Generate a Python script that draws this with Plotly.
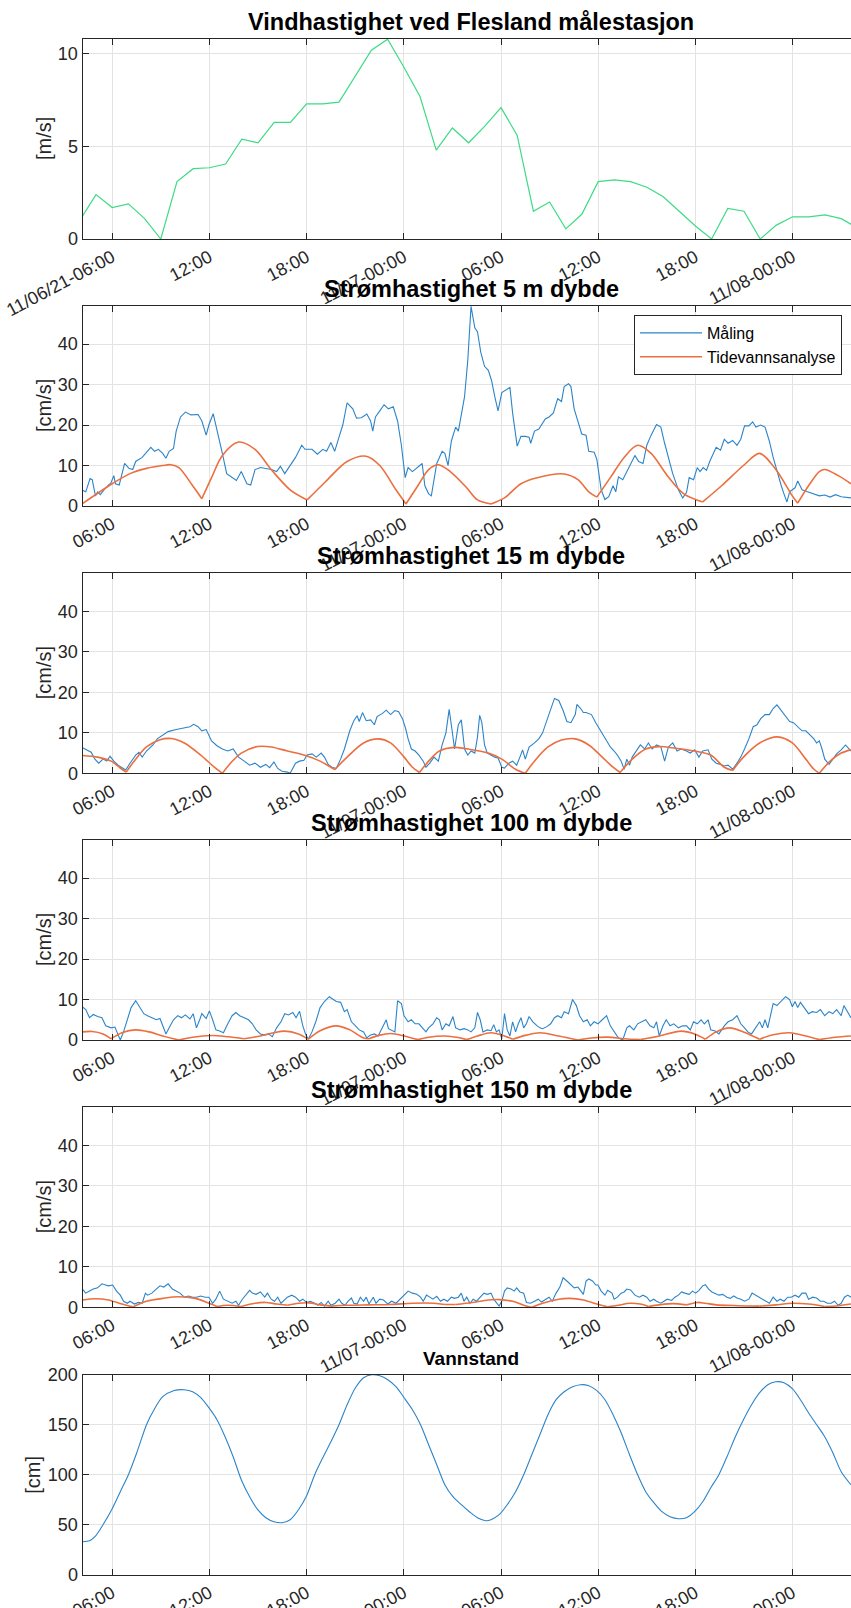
import pandas as pd
import plotly.graph_objects as go

START = pd.Timestamp("2021-11-06 00:00")

# ---------------- data (time in minutes after 2021-11-06 00:00) ----------------
wind_h = list(range(4, 53))
wind = [1.0, 2.4, 1.7, 1.9, 1.1, 0.0, 3.1, 3.8, 3.85, 4.05,
        5.4, 5.2, 6.3, 6.3, 7.3, 7.3, 7.4, 8.8, 10.2, 10.8,
        9.3, 7.7, 4.8, 6.0, 5.2, 6.1, 7.1, 5.6, 1.5, 2.0,
        0.55, 1.35, 3.1, 3.2, 3.1, 2.8, 2.3, 1.5, 0.7, 0.0,
        1.65, 1.5, 0.0, 0.75, 1.2, 1.2, 1.3, 1.1, 0.6]

t5_meas = [250, 262, 278, 286, 298, 306, 316, 336, 356, 366,
           372, 386, 406, 422, 436, 447, 471, 503, 517, 531,
           547, 559, 571, 587, 597, 613, 631, 652, 678, 692,
           708, 718, 734, 748, 768, 784, 804, 820, 838, 859,
           873, 889, 909, 929, 949, 969, 983, 999, 1019, 1039,
           1062, 1074, 1100, 1120, 1140, 1154, 1170, 1184, 1200, 1214,
           1230, 1251, 1265, 1283, 1303, 1317, 1325, 1335, 1351, 1367,
           1383, 1401, 1417, 1431, 1445, 1456, 1472, 1492, 1508, 1518,
           1532, 1542, 1562, 1582, 1592, 1604, 1616, 1632, 1642, 1653,
           1665, 1677, 1689, 1703, 1713, 1725, 1739, 1753, 1765, 1777,
           1789, 1803, 1819, 1833, 1843, 1854, 1860, 1874, 1890, 1904,
           1910, 1924, 1940, 1964, 1978, 1994, 2010, 2024, 2034, 2050,
           2059, 2071, 2085, 2099, 2115, 2125, 2145, 2155, 2171, 2185,
           2199, 2215, 2225, 2235, 2251, 2266, 2280, 2296, 2310, 2326,
           2340, 2356, 2376, 2392, 2406, 2420, 2436, 2457, 2473, 2487,
           2497, 2513, 2527, 2537, 2549, 2561, 2573, 2597, 2613, 2627,
           2641, 2658, 2674, 2688, 2702, 2718, 2732, 2744, 2762, 2778,
           2794, 2808, 2822, 2838, 2848, 2859, 2869, 2889, 2899, 2915,
           2935, 2959, 2979, 2999, 3019, 3039, 3060, 3096]
v5_meas = [3.9, 3.5, 6.8, 6.5, 2.5, 3.5, 2.8, 4.5, 5.8, 7.5,
           5.5, 5.2, 10.5, 9.3, 9.0, 11, 12, 14.5, 13.5, 14,
           13, 11.8, 13.5, 14.2, 18.5, 22, 23.2, 22.5, 22.6, 21,
           17.5, 20, 22.8, 19, 13, 8, 7, 6.3, 8.5, 5.5,
           5.2, 9, 9.5, 9.2, 9.0, 8.5, 9.8, 8.0, 10, 12,
           15, 14, 14, 12.8, 14, 13.5, 15.7, 13.5, 17, 20,
           25.5, 24, 21.7, 21.8, 22.7, 21, 18.5, 22, 23.5, 25,
           24, 24.5, 21, 15, 7, 9.5, 8.5, 9.5, 10.5, 5,
           3, 2.5, 10.5, 13.5, 13, 10, 16, 19.5, 18.5, 22.5,
           27, 36, 49.3, 44, 43, 38, 34.5, 33.5, 31, 27,
           23.5, 28, 28.8, 29.3, 23, 18, 14.8, 17.2, 17.2, 17,
           15.5, 18.5, 19, 21.5, 22, 23, 26.5, 25.8, 29.5, 30.2,
           29.5, 24, 21, 17.8, 17.5, 13.5, 13.3, 11.5, 4, 1.6,
           2.3, 5, 3.5, 7.2, 6.5, 8.5, 10.5, 12.5, 11, 10.5,
           15, 17.5, 20.1, 19.5, 15.5, 12, 8, 4, 2, 3.3,
           7, 6.5, 9.5, 8.5, 9.5, 8.8, 11, 14.5, 13.8, 16.5,
           15.5, 16.2, 15, 16.5, 19.8, 19.8, 20.8, 19.5, 20, 19.5,
           16, 12, 8.5, 5, 3, 1, 3.5, 4.5, 6.2, 4,
           3.5, 3, 2.5, 2.7, 2.2, 2.8, 2.3, 2]

t5_tide = [250, 360, 426, 487, 547, 577, 607, 658, 692, 728,
           768, 828, 889, 949, 1019, 1082, 1150, 1230, 1301, 1351,
           1411, 1448, 1492, 1532, 1568, 1612, 1673, 1713, 1763, 1813,
           1874, 1934, 2034, 2085, 2125, 2155, 2205, 2256, 2306, 2356,
           2416, 2477, 2547, 2617, 2698, 2758, 2818, 2879, 2899, 2939,
           2979, 2999, 3049, 3096]
v5_tide = [0.6, 5.5, 8, 9.3, 10, 10.2, 9.5, 5, 1.8, 7,
           12.5, 15.8, 14, 9, 4, 1.5, 6, 11, 12.3, 10,
           4, 0.5, 5, 9, 10.2, 8.5, 4.5, 1.5, 0.5, 2,
           5.5, 7, 7.9, 6.5, 3.5, 2.2, 7, 12, 15, 13,
           7.5, 3, 1, 5, 10, 13, 9, 2.5, 0.7, 5,
           8.5, 9, 7.5, 5.5]

t15_meas = [250, 266, 282, 296, 310, 326, 340, 352, 366, 382,
            396, 410, 426, 447, 459, 471, 487, 511, 527, 547,
            567, 597, 627, 648, 662, 678, 692, 708, 728, 748,
            768, 788, 808, 828, 849, 869, 889, 909, 929, 943,
            959, 973, 989, 1009, 1019, 1039, 1054, 1070, 1082, 1100,
            1116, 1134, 1146, 1160, 1174, 1190, 1206, 1220, 1240, 1255,
            1267, 1275, 1287, 1301, 1317, 1331, 1341, 1361, 1375, 1391,
            1407, 1421, 1435, 1447, 1456, 1468, 1482, 1496, 1512, 1522,
            1536, 1552, 1568, 1582, 1596, 1608, 1618, 1628, 1642, 1653,
            1665, 1677, 1689, 1703, 1713, 1721, 1729, 1739, 1749, 1763,
            1777, 1789, 1803, 1813, 1829, 1843, 1858, 1870, 1880, 1890,
            1904, 1924, 1940, 1954, 1970, 1984, 1998, 2014, 2030, 2044,
            2059, 2075, 2081, 2095, 2105, 2115, 2135, 2151, 2165, 2179,
            2191, 2205, 2219, 2231, 2245, 2256, 2266, 2276, 2286, 2300,
            2316, 2332, 2346, 2360, 2376, 2392, 2406, 2420, 2436, 2452,
            2467, 2487, 2501, 2517, 2533, 2547, 2567, 2581, 2597, 2613,
            2627, 2641, 2658, 2674, 2688, 2702, 2718, 2734, 2748, 2762,
            2778, 2794, 2808, 2822, 2838, 2852, 2869, 2883, 2899, 2915,
            2929, 2945, 2959, 2969, 2979, 2989, 2999, 3015, 3029, 3043,
            3060, 3076, 3096]
v15_meas = [6.3, 5.7, 5.2, 3.5, 2.5, 3.5, 3.0, 4.2, 3, 2,
            1.3, 0.8, 2.5, 4.5, 5.2, 4, 5.5, 7, 8.5, 9.5,
            10.3, 10.8, 11.2, 11.5, 12.1, 11.5, 10.5, 10.8, 8, 6.8,
            6, 5.5, 6, 4, 3, 2, 2.5, 1.5, 2.2, 1.4,
            2.8, 1.2, 0.5, 0.3, 0, 2.5, 3, 3.2, 4.5, 4.8,
            4, 5, 4, 2.2, 1.5, 1.2, 3.5, 6, 10.5, 13,
            14.2, 12.8, 15, 13, 13.2, 12, 14, 14.8, 15.6, 14.5,
            15.5, 15.2, 13.5, 11, 8.5, 6, 5.5, 4.5, 3, 1.5,
            2.5, 4, 3, 7, 10, 15.8, 11, 6, 12, 13.2,
            6, 4.5, 5.5, 5, 9, 14.3, 12.5, 7, 5, 4.5,
            4, 3.8, 1.5, 1.3, 2.5, 3.0, 2, 4, 5.8, 3.5,
            6.5, 7.5, 8.5, 10, 13, 16, 18.5, 18, 15.5, 12.8,
            12.5, 14.5, 17, 16, 15, 15, 14.5, 12.5, 11, 9.5,
            8, 6.5, 5.5, 4.5, 3, 1, 3.5, 2, 4, 5.5,
            7, 6, 7.5, 6, 7, 6.5, 3, 6.5, 7.5, 5.5,
            6, 5.5, 5, 5.8, 4, 5.5, 5.8, 3.5, 2.5, 2.2,
            1.8, 2, 1, 2.5, 4, 6, 8.5, 11.5, 12, 13.5,
            14.5, 14.5, 16, 16.9, 15.5, 14.5, 12.8, 12.5, 11.5, 10.5,
            10.5, 9.5, 8.5, 7.5, 8, 6, 3.5, 2.2, 3.5, 4.8,
            5.8, 7, 5.5]

t15_tide = [250, 306, 356, 396, 412, 447, 487, 537, 579, 627,
            688, 738, 768, 798, 838, 899, 949, 1009, 1070, 1130,
            1184, 1230, 1291, 1345, 1391, 1441, 1472, 1498, 1532, 1572,
            1628, 1693, 1753, 1803, 1854, 1890, 1924, 1974, 2024, 2075,
            2125, 2175, 2215, 2241, 2286, 2336, 2386, 2446, 2517, 2577,
            2627, 2658, 2698, 2758, 2824, 2879, 2929, 2959, 2979, 3019,
            3060, 3096]
v15_tide = [4.4, 4.0, 3, 1, 0.3, 3.5, 6.5, 8.3, 8.6, 7.5,
            4.5, 1.5, 0, 2.5, 5, 6.6, 6.5, 5.5, 4.5, 3,
            0.9, 4, 7.5, 8.5, 7.5, 4, 1.5, 0.2, 3, 5.5,
            6.4, 5.8, 5.0, 3.5, 1, 0, 3, 6.5, 8.2, 8.5,
            7, 4, 1.5, 0.2, 3.5, 6, 6.6, 6.2, 5.5, 4.5,
            1.5, 0.7, 4, 7.5, 9, 7.5, 3.5, 1, 0, 3,
            5, 5.8]

t100_meas = [250, 262, 276, 290, 306, 322, 336, 356, 370, 382,
             390, 402, 416, 430, 447, 463, 477, 491, 507, 523,
             537, 547, 559, 571, 587, 603, 617, 631, 648, 660,
             672, 684, 692, 708, 720, 732, 744, 758, 772, 788,
             804, 818, 832, 849, 865, 879, 893, 909, 925, 939,
             953, 969, 985, 999, 1013, 1029, 1041, 1054, 1066, 1076,
             1086, 1100, 1114, 1130, 1146, 1164, 1180, 1190, 1206, 1220,
             1230, 1246, 1261, 1275, 1291, 1303, 1315, 1331, 1345, 1361,
             1375, 1383, 1395, 1407, 1417, 1431, 1441, 1456, 1468, 1482,
             1496, 1508, 1522, 1532, 1548, 1562, 1572, 1582, 1596, 1608,
             1622, 1632, 1648, 1663, 1677, 1689, 1703, 1713, 1723, 1733,
             1749, 1763, 1773, 1783, 1793, 1803, 1813, 1823, 1833, 1843,
             1854, 1864, 1874, 1884, 1894, 1904, 1918, 1934, 1944, 1954,
             1970, 1984, 1998, 2010, 2024, 2034, 2050, 2065, 2079, 2091,
             2105, 2119, 2131, 2145, 2159, 2175, 2191, 2205, 2219, 2235,
             2251, 2266, 2276, 2292, 2306, 2320, 2336, 2352, 2366, 2376,
             2386, 2400, 2412, 2426, 2440, 2457, 2473, 2487, 2501, 2513,
             2527, 2541, 2553, 2567, 2577, 2593, 2607, 2617, 2627, 2641,
             2658, 2674, 2688, 2702, 2714, 2728, 2742, 2758, 2768, 2778,
             2788, 2798, 2808, 2822, 2838, 2854, 2869, 2879, 2889, 2899,
             2909, 2923, 2939, 2953, 2969, 2983, 2999, 3015, 3029, 3043,
             3060, 3070, 3084, 3096]
v100_meas = [8.2, 7.5, 5.5, 6.3, 5.8, 5.5, 3.5, 3.0, 3.2, 1,
             0, 2, 5, 8, 9.7, 8, 6.5, 6, 5.5, 5,
             5.3, 3.5, 1.5, 3, 5, 6, 5.5, 6.2, 5.2, 6.5,
             3, 5, 6.5, 5.3, 7.2, 5, 2.5, 2.2, 1.8, 4,
             6, 6.8, 6, 5.5, 5, 4, 2.5, 1.5, 1.2, 1.5,
             0.8, 3, 4.5, 6.5, 6.2, 6.8, 5.5, 7.1, 3.5, 1.5,
             0.2, 2, 4.5, 8, 9.5, 10.7, 10, 9.5, 9.3, 7,
             7.5, 4.5, 3.5, 2.5, 2, 0.5, 1.2, 1.5, 1, 3,
             5, 2.8, 2.5, 2, 9.7, 9, 6, 4.5, 5, 4,
             4, 3, 2, 3, 4, 5.5, 5, 2.5, 4, 3.5,
             5.8, 3, 2.5, 2.8, 2.5, 2, 3, 6.8, 5, 2,
             2.5, 2.3, 3.8, 2, 2.5, 0.3, 6.5, 2.5, 1, 4.5,
             2, 4, 5.5, 3, 4, 5.8, 4.5, 3.5, 3, 2.8,
             3.3, 4, 5.5, 6, 5.5, 7, 6.5, 10, 8.5, 6,
             4.5, 5, 3.5, 4.5, 4, 5, 6, 3.5, 2, 0.5,
             0, 3, 3.5, 2.5, 4, 4.5, 5, 3.5, 3, 4.5,
             1, 3.5, 5, 3.5, 4, 3, 3.5, 3.5, 2.5, 4.5,
             4, 5, 4, 5, 2.5, 2.2, 1.5, 2.5, 3.5, 4.5,
             5, 6, 4, 3, 2, 1.5, 3, 4.5, 3, 5,
             3, 6, 9, 8.5, 9.5, 10.7, 10, 8.2, 9.5, 8,
             9.3, 8, 6.5, 7, 6.8, 7.5, 6, 7, 6.5, 7.5,
             6, 8.5, 7, 5.5]

t100_tide = [250, 286, 326, 356, 396, 447, 497, 547, 607, 658,
             728, 788, 849, 909, 959, 999, 1050, 1086, 1130, 1190,
             1240, 1291, 1311, 1351, 1391, 1441, 1492, 1532, 1592, 1642,
             1673, 1713, 1763, 1813, 1843, 1894, 1944, 2014, 2085, 2135,
             2195, 2256, 2316, 2386, 2467, 2517, 2557, 2597, 2647, 2698,
             2758, 2808, 2869, 2929, 2979, 3039, 3096]
v100_tide = [2, 2.1, 1.5, 0.3, 1.8, 2.5, 2.0, 1, 0, 0.7,
             1.1, 0.8, 0.3, 1.0, 1.8, 2.2, 1.5, 0.2, 2.3, 3.5,
             2.5, 0.5, 0.3, 1.2, 1.6, 1.0, 0.1, 0.7, 1.0, 0.6,
             0.1, 1.0, 1.8, 1.0, 0.2, 1.2, 1.8, 1.0, 0, 0.5,
             0.7, 0.3, 0.1, 1.0, 2.2, 1.5, 0.2, 2.0, 3.0, 2.0,
             0.2, 1.3, 1.8, 1.0, 0.1, 0.7, 1.0]

t150_meas = [250, 262, 276, 290, 306, 322, 336, 346, 362, 376,
             390, 402, 416, 426, 442, 457, 471, 483, 491, 507,
             523, 537, 551, 567, 583, 597, 611, 627, 643, 658,
             672, 688, 704, 718, 732, 744, 758, 772, 788, 804,
             818, 828, 842, 853, 869, 879, 893, 909, 925, 935,
             949, 961, 973, 985, 999, 1009, 1025, 1039, 1054, 1066,
             1080, 1094, 1110, 1122, 1134, 1146, 1160, 1170, 1186, 1200,
             1210, 1222, 1234, 1246, 1255, 1267, 1279, 1291, 1301, 1311,
             1327, 1337, 1351, 1365, 1381, 1395, 1411, 1427, 1441, 1456,
             1472, 1488, 1502, 1512, 1524, 1536, 1548, 1562, 1576, 1588,
             1602, 1616, 1628, 1642, 1653, 1663, 1673, 1685, 1697, 1709,
             1723, 1737, 1749, 1763, 1773, 1783, 1793, 1803, 1813, 1823,
             1837, 1849, 1858, 1870, 1884, 1894, 1910, 1924, 1938, 1950,
             1964, 1978, 1990, 2004, 2018, 2030, 2044, 2059, 2071, 2085,
             2095, 2105, 2115, 2125, 2139, 2151, 2159, 2171, 2185, 2195,
             2211, 2219, 2231, 2245, 2256, 2266, 2280, 2296, 2312, 2326,
             2340, 2352, 2366, 2376, 2392, 2406, 2416, 2432, 2444, 2457,
             2469, 2481, 2497, 2509, 2521, 2533, 2547, 2557, 2569, 2581,
             2593, 2607, 2621, 2637, 2649, 2662, 2674, 2688, 2702, 2718,
             2730, 2742, 2754, 2768, 2778, 2794, 2808, 2822, 2834, 2848,
             2862, 2875, 2889, 2903, 2915, 2929, 2939, 2955, 2969, 2983,
             2995, 3009, 3023, 3035, 3049, 3060, 3072, 3084, 3096]
v150_meas = [4.5, 3.5, 4, 4.5, 4.8, 5.8, 5.5, 5.3, 5.5, 4,
             3, 1.5, 1, 1.5, 0.8, 1.2, 1, 3.5, 3, 3.5,
             4.5, 5.3, 5, 5.8, 4.5, 4, 3.5, 2.5, 2.8, 2.5,
             2.5, 2.8, 2.5, 2.5, 1, 2, 4, 2, 1.5, 1,
             1.5, 0.5, 2, 3, 4.2, 3.5, 3.2, 3.8, 2.5, 3.5,
             2, 1.5, 2.5, 1.0, 2, 2.5, 3, 2.5, 1.5, 2,
             1.2, 1.5, 1, 0.5, 1.2, 0.3, 1.5, 0.5, 1, 2.0,
             1.0, 0.5, 1.5, 2.3, 1, 0.8, 2.5, 1.5, 2.5, 0.8,
             2.5, 1, 2, 1.8, 0.8, 1.5, 1, 2, 3, 4,
             3.5, 3.2, 2.5, 1.5, 3, 2.5, 2, 2.7, 1.5, 2,
             1.5, 2.5, 2.2, 2.5, 3.5, 1.5, 2.5, 1, 2, 1.5,
             2.5, 3.5, 3.2, 3.5, 2, 1.0, 0.3, 1.5, 4, 4.8,
             4.5, 4.0, 4.8, 3.8, 3.5, 1.2, 1, 1.5, 2, 1.3,
             2, 2.5, 1.5, 3.5, 5, 7.3, 6.5, 5.5, 4.8, 5,
             4, 3.2, 6.5, 7, 6.5, 5.5, 5.5, 4, 3, 4.2,
             3.5, 2, 2.5, 3.5, 3.8, 4.5, 4.3, 3, 2.5, 3,
             2.5, 1.5, 2.0, 1.5, 1, 1.5, 2, 1.7, 2.5, 3,
             3.8, 3.5, 3.2, 4, 3.5, 4.2, 5.3, 5.6, 4.5, 3.8,
             3.5, 3, 3.2, 2.5, 2.2, 2.8, 2.3, 2, 1.5, 2,
             3.5, 3, 2.5, 2, 1.5, 1, 2.5, 1.5, 2, 1.5,
             2.5, 2.5, 3, 2.5, 3.5, 3.5, 2, 2.5, 2.3, 1.5,
             1.5, 1, 1, 1.5, 0.5, 1, 2.5, 3, 2.5]

t150_tide = [250, 296, 346, 396, 436, 487, 547, 607, 668, 718,
             748, 788, 838, 889, 929, 969, 1009, 1050, 1090, 1130,
             1170, 1230, 1311, 1391, 1472, 1552, 1592, 1632, 1693, 1753,
             1793, 1843, 1884, 1914, 1954, 2014, 2055, 2105, 2155, 2195,
             2235, 2276, 2316, 2346, 2386, 2436, 2487, 2527, 2557, 2597,
             2678, 2758, 2818, 2879, 2939, 2999, 3049, 3096]
v150_tide = [1.8, 2.1, 1.8, 0.8, 0.1, 1.5, 2.2, 2.6, 2.2, 1.0,
             0.2, 0.5, 0.2, 1.0, 1.2, 0.8, 0.5, 1.0, 1.1, 0.6,
             0.3, 0.5, 0.6, 0.7, 1.0, 1.0, 0.7, 0.7, 1.2, 1.8,
             1.9, 1.5, 0.5, 0, 1.0, 2.0, 2.2, 1.8, 0.8, 0.1,
             0.5, 1.0, 0.8, 0.2, 0.6, 0.9, 0.6, 1.2, 1.0, 0.6,
             0.4, 0.3, 0.6, 1.0, 0.8, 0.2, 0.4, 0.8]

t_level = [250, 276, 296, 326, 360, 390, 420, 451, 487, 517,
           547, 587, 627, 658, 688, 718, 748, 778, 808, 838,
           869, 899, 929, 959, 989, 1019, 1050, 1080, 1110, 1140,
           1170, 1200, 1230, 1261, 1291, 1321, 1351, 1381, 1411, 1441,
           1472, 1502, 1532, 1562, 1592, 1622, 1653, 1683, 1713, 1743,
           1763, 1793, 1823, 1854, 1884, 1914, 1944, 1974, 2004, 2034,
           2065, 2095, 2125, 2155, 2185, 2215, 2245, 2276, 2306, 2336,
           2366, 2396, 2426, 2457, 2487, 2517, 2547, 2577, 2607, 2637,
           2668, 2698, 2728, 2758, 2788, 2818, 2848, 2879, 2909, 2939,
           2969, 2999, 3029, 3060, 3096]
level = [33, 34, 38, 50, 66, 83, 100, 122, 150, 166,
         178, 184, 185, 183, 177, 167, 155, 138, 118, 95,
         78, 65, 57, 53, 52, 55, 65, 79, 100, 117,
         133, 150, 170, 187, 197, 200, 199, 195, 188, 177,
         165, 150, 130, 110, 90, 78, 70, 63, 57, 54,
         55, 60, 70, 83, 100, 120, 140, 160, 175, 183,
         188, 190, 189, 184, 175, 160, 142, 120, 100, 83,
         72, 63, 58, 56, 57, 63, 73, 87, 100, 118,
         138, 155, 170, 182, 190, 193, 192, 186, 175, 162,
         150, 138, 122, 103, 90]

tick_hours = [6, 12, 18, 24, 30, 36, 42, 48]
ticks_first = ["11/06/21-06:00", "12:00", "18:00", "11/07-00:00", "06:00", "12:00", "18:00", "11/08-00:00"]
ticks_other = ["06:00", "12:00", "18:00", "11/07-00:00", "06:00", "12:00", "18:00", "11/08-00:00"]

titles = ["Vindhastighet ved Flesland målestasjon", "Strømhastighet 5 m dybde",
          "Strømhastighet 15 m dybde", "Strømhastighet 100 m dybde",
          "Strømhastighet 150 m dybde", "Vannstand"]
ylabels = ["[m/s]", "[cm/s]", "[cm/s]", "[cm/s]", "[cm/s]", "[cm]"]

# ---------------- helpers ----------------
for a, b in [(t5_meas, v5_meas), (t5_tide, v5_tide), (t15_meas, v15_meas), (t15_tide, v15_tide),
             (t100_meas, v100_meas), (t100_tide, v100_tide), (t150_meas, v150_meas),
             (t150_tide, v150_tide), (t_level, level), (wind_h, wind)]:
    assert len(a) == len(b), (len(a), len(b))


def tmin(m):
    return list(START + pd.to_timedelta(m, unit="min"))


def arcs(t, v):
    """Split a tidal-speed series at its local minima so each arc is smoothed
    separately while the cusps at the minima stay sharp."""
    xs, ys = [], []
    tt = tmin(t)
    n = len(v)
    for i in range(n):
        xs.append(tt[i]); ys.append(v[i])
        if 0 < i < n - 1 and v[i] <= v[i - 1] and v[i] <= v[i + 1]:
            xs.append(None); ys.append(None)
            xs.append(tt[i]); ys.append(v[i])
    return xs, ys


W, H = 851, 1608
FONT = "Liberation Sans, Arial, Helvetica, sans-serif"
BLUE = "#2b84c9"
ORANGE = "#ec6f3f"
GREEN = "#3ddc84"
AX = "#262626"

x0_px = 82.5
px_per_hour = 16.2
x_start = START + pd.to_timedelta(250, unit="min")
x_end = x_start + pd.to_timedelta((W - x0_px) / px_per_hour, unit="h")

tops = [39, 306, 573.3, 840, 1107.3, 1374.7]
ph = 200

fig = go.Figure()

# wind
fig.add_trace(go.Scatter(x=[START + pd.to_timedelta(h, unit="h") for h in wind_h], y=wind,
                         mode="lines", line=dict(color=GREEN, width=1.2), showlegend=False,
                         xaxis="x", yaxis="y"))

series = [(t5_meas, v5_meas, t5_tide, v5_tide),
          (t15_meas, v15_meas, t15_tide, v15_tide),
          (t100_meas, v100_meas, t100_tide, v100_tide),
          (t150_meas, v150_meas, t150_tide, v150_tide)]
for i, (tm, vm, tt, vt) in enumerate(series):
    k = i + 2
    fig.add_trace(go.Scatter(x=tmin(tm), y=vm, mode="lines", name="Måling",
                             line=dict(color=BLUE, width=1.1), showlegend=(i == 0),
                             xaxis=f"x{k}", yaxis=f"y{k}"))
    ax_, ay_ = arcs(tt, vt)
    fig.add_trace(go.Scatter(x=ax_, y=ay_, mode="lines", name="Tidevannsanalyse",
                             line=dict(color=ORANGE, width=1.6, shape="spline", smoothing=0.9),
                             connectgaps=False, showlegend=(i == 0),
                             xaxis=f"x{k}", yaxis=f"y{k}"))

fig.add_trace(go.Scatter(x=tmin(t_level), y=level, mode="lines",
                         line=dict(color=BLUE, width=1.1, shape="spline", smoothing=0.8),
                         showlegend=False, xaxis="x6", yaxis="y6"))

tickvals = [START + pd.to_timedelta(h, unit="h") for h in tick_hours]
yranges = [[0, 10.81], [0, 49.4], [0, 49.4], [0, 49.4], [0, 49.4], [0, 200]]
ydticks = [5, 10, 10, 10, 10, 50]
ylab_x = [44, 44, 44, 44, 44, 33]

layout = dict(width=W, height=H, margin=dict(l=0, r=0, t=0, b=0, pad=0), autosize=False,
              paper_bgcolor="white", plot_bgcolor="white",
              font=dict(family=FONT, size=18, color=AX),
              legend=dict(x=842 / W, xanchor="right", y=1 - 315 / H, yanchor="top",
                          bgcolor="white", bordercolor=AX, borderwidth=1, itemwidth=62,
                          font=dict(size=16, color="black"), tracegroupgap=0),
              annotations=[])

for i in range(6):
    k = "" if i == 0 else str(i + 1)
    top = tops[i]
    dom = [1 - (top + ph) / H, 1 - top / H]
    layout[f"xaxis{k}"] = dict(domain=[x0_px / W, 1], range=[x_start, x_end], anchor=f"y{k}",
                               tickmode="array", tickvals=tickvals,
                               ticktext=ticks_first if i == 0 else ticks_other,
                               tickangle=-28, ticks="inside", ticklen=6, tickcolor=AX,
                               showline=True, linecolor=AX, linewidth=1, mirror="ticks",
                               showgrid=True, gridcolor="#e3e3e3", gridwidth=1,
                               tickfont=dict(size=18, color=AX), zeroline=False,
                               automargin=False)
    layout[f"yaxis{k}"] = dict(domain=dom, range=yranges[i], anchor=f"x{k}",
                               dtick=ydticks[i], tick0=0, ticks="inside", ticklen=6, tickcolor=AX,
                               showline=True, linecolor=AX, linewidth=1,
                               showgrid=True, gridcolor="#e3e3e3", gridwidth=1,
                               tickfont=dict(size=18, color=AX), zeroline=False,
                               automargin=False)
    fs = 19 if i == 5 else 23.5
    layout["annotations"].append(dict(text=f"<b>{titles[i]}</b>", x=471 / W, xref="paper",
                                      y=1 - (top - 7.5 + 0.22 * fs) / H, yref="paper",
                                      yanchor="bottom", xanchor="center", showarrow=False,
                                      font=dict(size=fs, color="black", family=FONT)))
    layout["annotations"].append(dict(text=ylabels[i], x=ylab_x[i] / W, xref="paper",
                                      y=1 - (top + ph / 2) / H, yref="paper",
                                      xanchor="center", yanchor="middle", textangle=-90,
                                      showarrow=False, font=dict(size=20, color=AX, family=FONT)))

fig.update_layout(**layout)
fig.write_html("out.html")
